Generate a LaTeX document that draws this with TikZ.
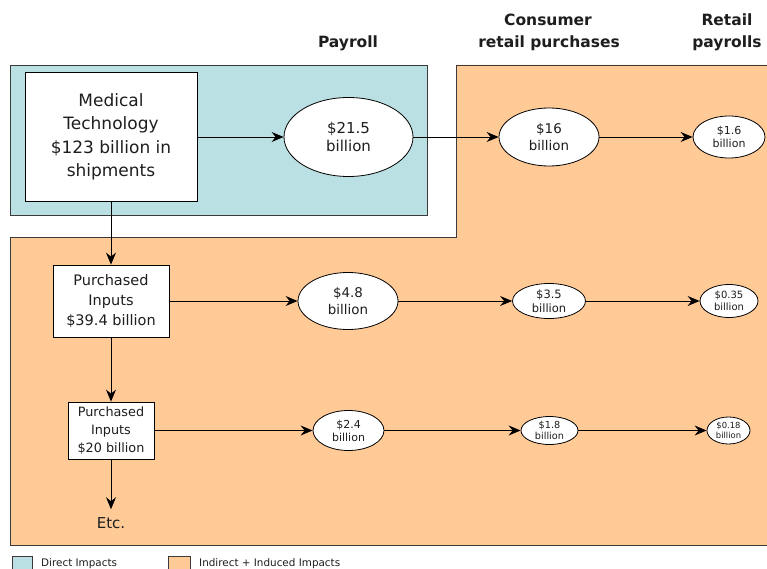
\documentclass[tikz,border=0pt]{standalone}
\usepackage{fontspec}
\setmainfont{DejaVu Sans}
\usetikzlibrary{arrows.meta,shapes.geometric}
\definecolor{tealbg}{HTML}{BBE0E3}
\definecolor{orangebg}{HTML}{FFCA96}
\definecolor{edgegray}{HTML}{3A3A3A}
\definecolor{txt}{HTML}{1E1E1E}
\newcommand{\fs}[1]{\fontsize{#1}{1.38\dimexpr #1pt\relax}\selectfont}
\newcommand{\fo}[1]{\fontsize{#1}{1.2\dimexpr #1pt\relax}\selectfont}
\tikzset{
  region/.style={draw=edgegray, line width=0.9pt},
  whitebox/.style={draw=black, fill=white, line width=0.8pt, align=center, text=txt, inner sep=0pt},
  oval/.style={ellipse, draw=black, fill=white, line width=0.8pt, align=center, text=txt, inner sep=0pt},
  flow/.style={line width=0.9pt, -{Stealth[length=12pt,width=10pt,inset=4pt]}},
  heading/.style={font=\bfseries\fs{15.5}, text=txt, inner sep=0pt},
  legtext/.style={font=\fs{10.4}, text=txt, anchor=west, inner sep=0pt}
}
\begin{document}
\begin{tikzpicture}[x=1pt,y=-1pt]
\useasboundingbox (0,0) rectangle (767,569);
\fill[white] (0,0) rectangle (767,569);
% regions
\draw[region, fill=orangebg] (10,237) -- (456,237) -- (456,65) -- (775,65) -- (775,545) -- (10,545) -- cycle;
\draw[region, fill=tealbg] (10,65) rectangle (427,215);
% headings
\node[heading] (h1) at (348,43) {Payroll};
\node[heading] (h2a) at (548,20) {Consumer};
\node[heading] (h2b) at (549,43) {retail purchases};
\node[heading] (h3a) at (727,20) {Retail};
\node[heading] (h3b) at (727,43) {payrolls};
% row 1
\node[whitebox, minimum width=172pt, minimum height=129pt, font=\fs{17}] (mt) at (111,137)
  {Medical\\Technology\\\$123 billion in\\shipments};
\node[oval, minimum width=129pt, minimum height=79pt, font=\fo{15}] (e1) at (348.5,137) {\$21.5\\billion};
\node[oval, minimum width=100pt, minimum height=58pt, font=\fo{13.4}] (e2) at (549,137) {\$16\\billion};
\node[oval, minimum width=72pt, minimum height=42pt, font=\fo{11}] (e3) at (729,137) {\$1.6\\billion};
% row 2
\node[whitebox, minimum width=116pt, minimum height=72pt, font=\fs{14.5}] (pi1) at (111,301)
  {Purchased\\Inputs\\\$39.4 billion};
\node[oval, minimum width=100pt, minimum height=57pt, font=\fo{13.4}] (f1) at (348,301) {\$4.8\\billion};
\node[oval, minimum width=73pt, minimum height=35pt, font=\fo{11.5}] (f2) at (549,301) {\$3.5\\billion};
\node[oval, minimum width=58pt, minimum height=33pt, font=\fo{10}] (f3) at (729,301) {\$0.35\\billion};
% row 3
\node[whitebox, minimum width=86pt, minimum height=57pt, font=\fs{12.8}] (pi2) at (111,430.5)
  {Purchased\\Inputs\\\$20 billion};
\node[oval, minimum width=71pt, minimum height=40pt, font=\fo{11}] (g1) at (348.5,430.5) {\$2.4\\billion};
\node[oval, minimum width=57pt, minimum height=28pt, font=\fo{9.7}] (g2) at (549.5,430.5) {\$1.8\\billion};
\node[oval, minimum width=43pt, minimum height=27pt, font=\fo{8.4}] (g3) at (728.5,430.5) {\$0.18\\billion};
\node[font=\fs{15}, text=txt, inner sep=0pt] (etc) at (111,523) {Etc.};
% connectors
\draw[flow] (mt.east) -- (e1.west);
\draw[flow] (e1.east) -- (e2.west);
\draw[flow] (e2.east) -- (e3.west);
\draw[flow] (mt.south) -- (pi1.north);
\draw[flow] (pi1.east) -- (f1.west);
\draw[flow] (f1.east) -- (f2.west);
\draw[flow] (f2.east) -- (f3.west);
\draw[flow] (pi1.south) -- (pi2.north);
\draw[flow] (pi2.east) -- (g1.west);
\draw[flow] (g1.east) -- (g2.west);
\draw[flow] (g2.east) -- (g3.west);
\draw[flow, shorten >=8pt] (pi2.south) -- (etc.north);
% legend
\draw[region, fill=tealbg] (12,556) rectangle (32,575);
\node[legtext] (l1) at (41,563.5) {Direct Impacts};
\draw[region, fill=orangebg] (168,556) rectangle (190,575);
\node[legtext] (l2) at (199,563.5) {Indirect + Induced Impacts};
\end{tikzpicture}
\end{document}
